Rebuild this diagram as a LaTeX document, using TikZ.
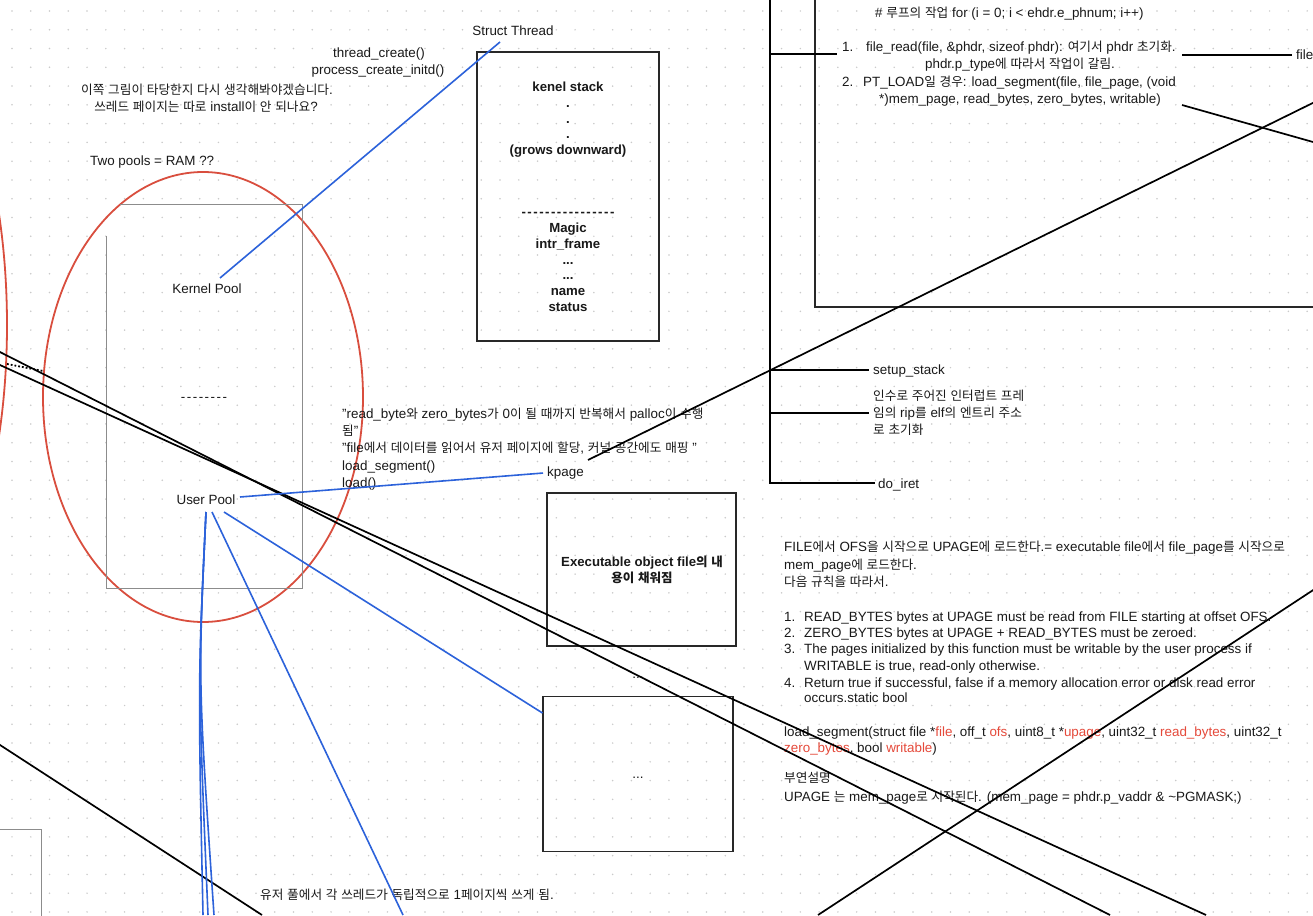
\documentclass[tikz,border=0pt]{standalone}
\usepackage{fontspec}
\setmainfont{Liberation Sans}
\newfontfamily\krfont{Noto Sans CJK KR}[Scale=0.945]
\XeTeXinterchartokenstate=1
\newXeTeXintercharclass\krclass
\newcount\krc
\krc="AC00
\loop\XeTeXcharclass\krc=\krclass\relax\advance\krc by 1\relax\ifnum\krc<"D7A4\repeat
\krc="3131
\loop\XeTeXcharclass\krc=\krclass\relax\advance\krc by 1\relax\ifnum\krc<"318F\repeat
\XeTeXinterchartoks 0 \krclass={\krfont}
\XeTeXinterchartoks 4095 \krclass={\krfont}
\XeTeXinterchartoks \krclass 0={\rmfamily}
\XeTeXinterchartoks \krclass 4095={\rmfamily}
\definecolor{dotc}{RGB}{202,202,202}
\definecolor{redln}{RGB}{217,78,62}
\definecolor{bluln}{RGB}{44,98,218}
\definecolor{redtx}{RGB}{229,73,58}
\definecolor{txt}{RGB}{25,25,25}
\definecolor{boxc}{RGB}{40,40,40}
\definecolor{grayc}{RGB}{140,140,140}
\newcommand\dsh{\mbox{-}\kern1.5pt}
\newcommand\tdots{.\kern0pt.\kern0pt.}
\begin{document}
\begin{tikzpicture}[x=1pt,y=-1pt,
  T/.style={inner sep=0pt, text=txt, font=\fontsize{13.4}{16}\selectfont},
  TB/.style={inner sep=0pt, text=txt, font=\fontsize{13.2}{16}\selectfont\bfseries},
  blk/.style={draw=black, line width=1.7pt},
  blu/.style={draw=bluln, line width=1.6pt},
  rarc/.style={draw=redln, line width=1.8pt},
  gline/.style={draw=grayc, line width=0.9pt},
  bbox/.style={draw=boxc, line width=1.1pt, inner sep=0pt}]
\useasboundingbox (0,0) rectangle (1313,915);
\clip (0,0) rectangle (1313,915);
\fill[white] (0,0) rectangle (1313,915);
\foreach \i in {0,...,69}{\foreach \j in {0,...,48}{\fill[dotc] ({12+\i*18.77},{11+\j*18.77}) circle[radius=0.85pt];}}

% ---------- left: pools ----------
\draw[rarc] (203,397) ellipse [x radius=160pt, y radius=225pt];
\draw[rarc] (-140,325) ellipse [x radius=147pt, y radius=340pt];
\draw[gline] (120,204) -- (302,204) -- (302,588) -- (106,588) -- (106,236);
\draw[gline] (0,829) -- (41,829) -- (41,920);

\node[T, anchor=base] (q1) at (207,94.5) {이쪽 그림이 타당한지 다시 생각해봐야겠습니다.};
\node[T, anchor=base] (q2) at (206,111.5) {쓰레드 페이지는 따로 install이 안 되나요?};
\node[T, anchor=base] (tc1) at (379,57.5) {thread\_create()};
\node[T, anchor=base] (tc2) at (378,74.5) {process\_create\_initd()};
\node[T, anchor=base west] (two) at (90,165.5) {Two pools = RAM ??};
\node[T, anchor=base] (kp) at (207,293.5) {Kernel Pool};
\node[T, anchor=base] (dash1) at (204,401.5) {\dsh\dsh\dsh\dsh\dsh\dsh\dsh\mbox{-}};
\node[T, anchor=base] (up) at (206,504.5) {User Pool};
\node[T, anchor=base west] (bot) at (260,899.5) {유저 풀에서 각 쓰레드가 독립적으로 1페이지씩 쓰게 됨.};

% ---------- struct thread ----------
\node[T, anchor=base] (st) at (513,35.5) {Struct Thread};
\node[bbox, minimum width=182pt, minimum height=289pt] (stbox) at (568,196.5) {};
\node[TB, anchor=base] (s1) at (568,91.5) {kenel stack};
\node[TB, anchor=base] (s2) at (568,107.3) {.};
\node[TB, anchor=base] (s3) at (568,123.1) {.};
\node[TB, anchor=base] (s4) at (568,138.9) {.};
\node[TB, anchor=base] (s5) at (568,154.7) {(grows downward)};
\node[TB, anchor=base] (sdash) at (568,216.7) {\dsh\dsh\dsh\dsh\dsh\dsh\dsh\dsh\dsh\dsh\dsh\dsh\dsh\dsh\dsh\mbox{-}};
\node[TB, anchor=base] (s6) at (568,232.5) {Magic};
\node[TB, anchor=base] (s7) at (568,248.3) {intr\_frame};
\node[TB, anchor=base] (s8) at (568,264.1) {\tdots};
\node[TB, anchor=base] (s9) at (568,279.9) {\tdots};
\node[TB, anchor=base] (s10) at (568,295.7) {name};
\node[TB, anchor=base] (s11) at (568,311.5) {status};

% ---------- middle texts and boxes ----------
\node[T, anchor=base west] (r1) at (342,418.5) {"read\_byte와 zero\_bytes가 0이 될 때까지 반복해서 palloc이 수행};
\node[T, anchor=base west] (r2) at (342,435.7) {됨"};
\node[T, anchor=base west] (r3) at (342,452.9) {"file에서 데이터를 읽어서 유저 페이지에 할당, 커널 공간에도 매핑 "};
\node[T, anchor=base west] (r4) at (342,470.1) {load\_segment()};
\node[T, anchor=base west] (r5) at (342,487.3) {load()};
\node[T, anchor=base west] (kpage) at (547,476.5) {kpage};

\node[bbox, minimum width=189pt, minimum height=153pt] (exbox) at (641.5,569.5) {};
\node[TB, anchor=base] (ex1) at (642,566.5) {Executable object file의 내};
\node[TB, anchor=base] (ex2) at (642,582) {용이 채워짐};
\node[T, anchor=base] (mid) at (638,678) {\tdots};
\node[bbox, minimum width=190pt, minimum height=155pt] (dbox) at (638,774) {};
\node[T, anchor=base] (dd) at (638,778.5) {\tdots};

% ---------- right: timeline ----------
\coordinate (vt) at (770,-5);
\coordinate (vb) at (770,483);
\coordinate (h1) at (770,54);
\coordinate (h2) at (770,370);
\coordinate (h3) at (770,413);
\draw[bbox] (815,-5) -- (815,307) -- (1320,307);
\node[T, anchor=base west] (loop) at (875,17.5) {\# 루프의 작업 for (i = 0; i < ehdr.e\_phnum; i++)};
\node[T, anchor=base west] (n1) at (842,51.5) {1.};
\node[T, anchor=base west] (fr) at (866,51.5) {file\_read(file, \&phdr, sizeof phdr): 여기서 phdr 초기화.};
\node[T, anchor=base] (pt) at (1020,68.5) {phdr.p\_type에 따라서 작업이 갈림.};
\node[T, anchor=base west] (n2) at (842,86.5) {2.};
\node[T, anchor=base west] (pl) at (863,86.5) {PT\_LOAD일 경우: load\_segment(file, file\_page, (void};
\node[T, anchor=base] (mp) at (1020,103.5) {*)mem\_page, read\_bytes, zero\_bytes, writable)};
\node[T, anchor=base west] (file) at (1296,59.5) {file};
\node[T, anchor=base west] (ss) at (873,374.5) {setup\_stack};
\node[T, anchor=base west] (in1) at (873,400.5) {인수로 주어진 인터럽트 프레};
\node[T, anchor=base west] (in2) at (873,417.5) {임의 rip를 elf의 엔트리 주소};
\node[T, anchor=base west] (in3) at (873,434.5) {로 초기화};
\node[T, anchor=base west] (iret) at (878,488.5) {do\_iret};

\draw[blk] (vt) -- (vb) -- ([xshift=-3pt]iret.west |- vb);
\draw[blk] (h1) -- (837,54);
\draw[blk] (h2) -- ([xshift=-4pt]ss.west |- h2);
\draw[blk] (h3) -- ([xshift=-4pt]in2.west |- h3);
\draw[blk] (1182,55) -- ([xshift=-4pt]file.west |- 0,55);

% ---------- bottom right text ----------
\node[T, anchor=base west] (b1) at (784,551.2) {FILE에서 OFS을 시작으로 UPAGE에 로드한다.= executable file에서 file\_page를 시작으로};
\node[T, anchor=base west] (b2) at (784,569.0) {mem\_page에 로드한다.};
\node[T, anchor=base west] (b3) at (784,586.2) {다음 규칙을 따라서.};
\node[T, anchor=base west] (c1n) at (784,621.2) {1.};
\node[T, anchor=base west] (c1) at (804,621.2) {READ\_BYTES bytes at UPAGE must be read from FILE starting at offset OFS.};
\node[T, anchor=base west] (c2n) at (784,637.0) {2.};
\node[T, anchor=base west] (c2) at (804,637.0) {ZERO\_BYTES bytes at UPAGE + READ\_BYTES must be zeroed.};
\node[T, anchor=base west] (c3n) at (784,653.5) {3.};
\node[T, anchor=base west] (c3) at (804,653.5) {The pages initialized by this function must be writable by the user process if};
\node[T, anchor=base west] (c3b) at (804,670.0) {WRITABLE is true, read-only otherwise.};
\node[T, anchor=base west] (c4n) at (784,687.0) {4.};
\node[T, anchor=base west] (c4) at (804,687.0) {Return true if successful, false if a memory allocation error or disk read error};
\node[T, anchor=base west] (c4b) at (804,702.8) {occurs.static bool};
\node[T, anchor=base west] (ls1) at (784,736.2) {load\_segment(struct file *\textcolor{redtx}{file}, off\_t \textcolor{redtx}{ofs}, uint8\_t *\textcolor{redtx}{upage}, uint32\_t \textcolor{redtx}{read\_bytes}, uint32\_t};
\node[T, anchor=base west] (ls2) at (784,752.8) {\textcolor{redtx}{zero\_bytes}, bool \textcolor{redtx}{writable})};
\node[T, anchor=base west] (bu1) at (784,782.8) {부연설명};
\node[T, anchor=base west] (bu2) at (784,801.2) {UPAGE 는 mem\_page로 시작된다. (mem\_page = phdr.p\_vaddr \& \textasciitilde PGMASK;)};

% ---------- long black lines ----------
\coordinate (pA) at (-20,341.9);   \coordinate (pB) at (1110,915);
\coordinate (qA) at (-20,355.9);   \coordinate (qB) at (1206,915);
\coordinate (lA) at (-20,732);     \coordinate (lB) at (262,915);
\coordinate (vA) at (818,915);     \coordinate (vB) at (1330,579);
\coordinate (kA) at (588,460);     \coordinate (kB) at (1330,94.5);
\coordinate (xA) at (1182,105);    \coordinate (xB) at (1330,146.8);
\draw[blk] (pA) -- (pB);
\draw[blk] (qA) -- (qB);
\draw[blk] (lA) -- (lB);
\draw[blk] (vA) -- (vB);
\draw[blk] (kA) -- (kB);
\draw[blk] (xA) -- (xB);
\draw[black, line width=1.8pt, dotted] (7,364) -- (43,371);

% ---------- blue connectors ----------
\coordinate (kpS) at (220,278);  \coordinate (stE) at (500,42);
\coordinate (upR) at (240,497);
\coordinate (upB1) at (206,512); \coordinate (upB2) at (212,512); \coordinate (upB3) at (224,512);
\draw[blu] (kpS) -- (stE);
\draw[blu] (upR) -- ([xshift=-4pt]kpage.west);
\draw[blu] (upB2) -- (403,915);
\draw[blu] (upB3) -- (dbox.north west |- 0,713);
\draw[blu] (upB1) .. controls (198,680) .. (203,915);
\draw[blu] (upB1) .. controls (198,680) .. (208,915);
\draw[blu] (upB1) .. controls (198,680) .. (214,915);
\end{tikzpicture}
\end{document}
